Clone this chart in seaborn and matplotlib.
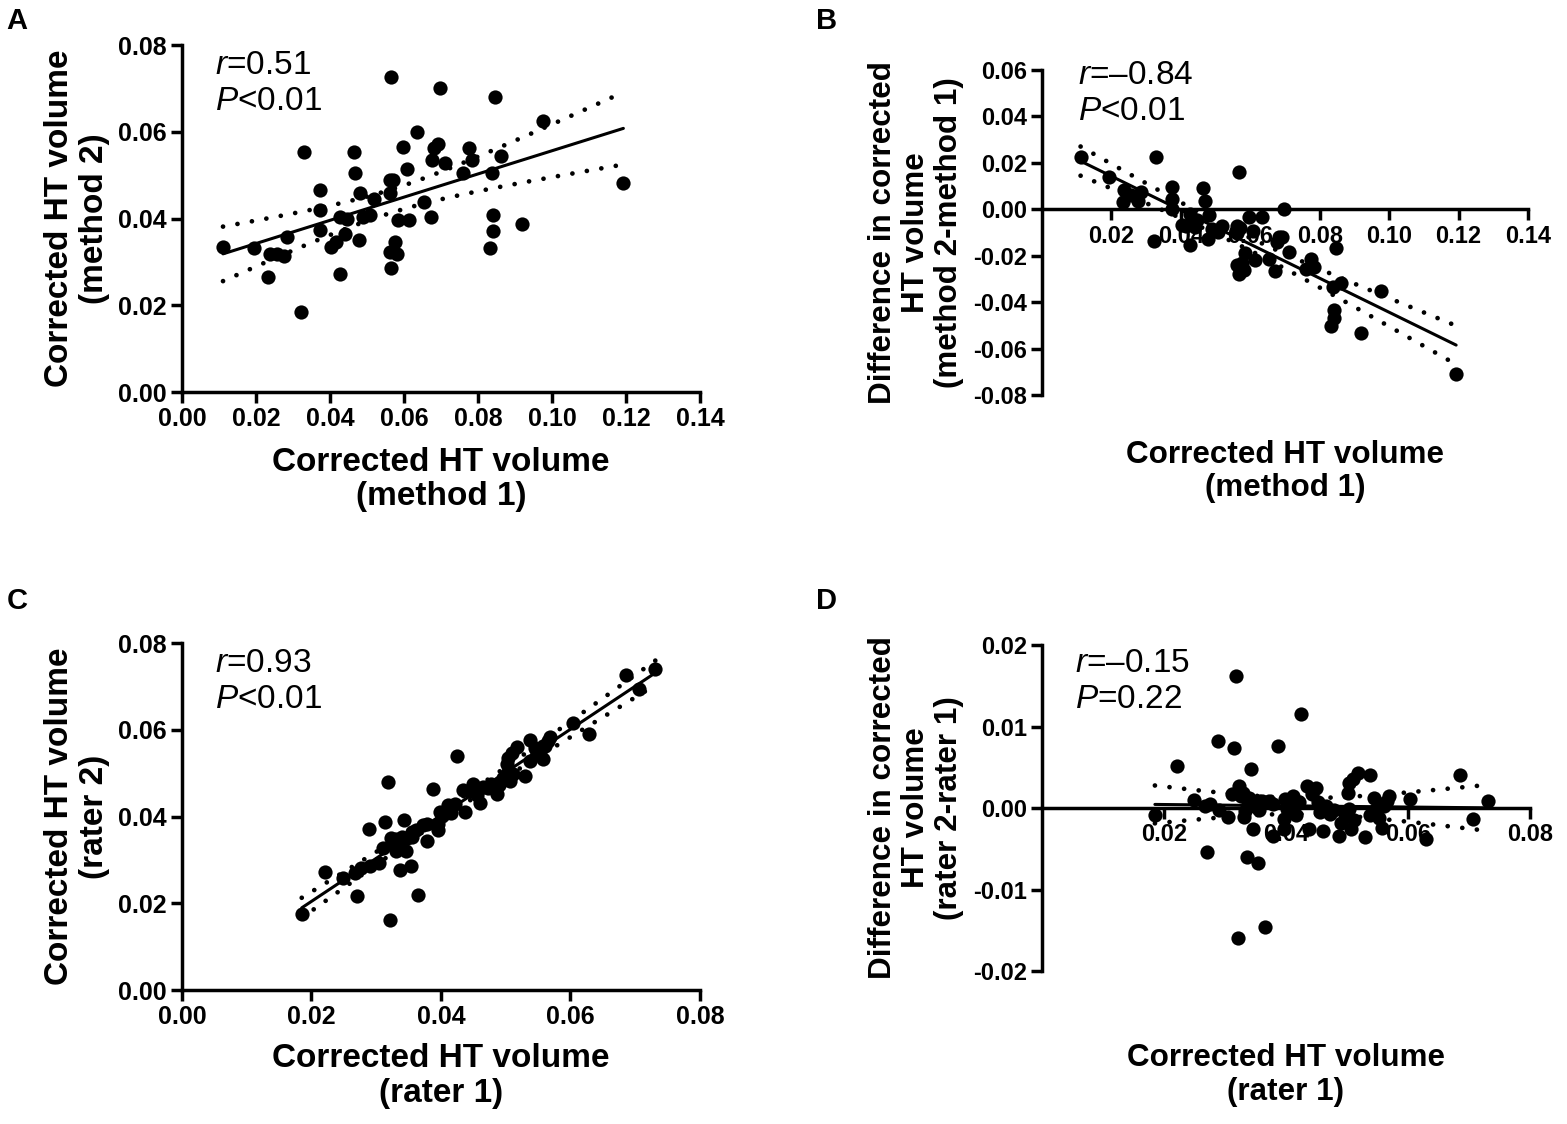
import numpy as np
import seaborn as sns
import matplotlib.pyplot as plt
from matplotlib.ticker import FormatStrFormatter

# corrected HT volume, method 1 vs method 2 (panel A, B is method2 - method1)
method1 = [0.0111, 0.0194, 0.0232, 0.0237, 0.0256, 0.0276, 0.0285, 0.0329, 0.0322,
           0.0373, 0.0373, 0.0373, 0.0402, 0.0416, 0.0426, 0.0426, 0.0445, 0.0440,
           0.0464, 0.0469, 0.0481, 0.0479, 0.0489, 0.0508, 0.0518, 0.0561, 0.0561,
           0.0571, 0.0566, 0.0561, 0.0581, 0.0576, 0.0566, 0.0585, 0.0614, 0.0597,
           0.0607, 0.0634, 0.0653, 0.0672, 0.0682, 0.0692, 0.0677, 0.0697, 0.0711,
           0.0760, 0.0776, 0.0784, 0.0837, 0.0842, 0.0842, 0.0832, 0.0847, 0.0861,
           0.0919, 0.0977, 0.1193]
method2 = [0.0335, 0.0331, 0.0265, 0.0319, 0.0319, 0.0313, 0.0358, 0.0554, 0.0185,
           0.0467, 0.0419, 0.0373, 0.0335, 0.0346, 0.0273, 0.0404, 0.0400, 0.0365,
           0.0554, 0.0505, 0.0458, 0.0350, 0.0404, 0.0408, 0.0444, 0.0458, 0.0488,
           0.0490, 0.0727, 0.0323, 0.0319, 0.0346, 0.0286, 0.0396, 0.0396, 0.0565,
           0.0515, 0.0600, 0.0438, 0.0404, 0.0562, 0.0573, 0.0535, 0.0700, 0.0527,
           0.0504, 0.0562, 0.0535, 0.0504, 0.0408, 0.0372, 0.0331, 0.0681, 0.0544,
           0.0388, 0.0625, 0.0482]

# corrected HT volume rater 1 and difference rater 2 - rater 1 (panel D, C is rater 2)
rater1 = [0.0185, 0.0221, 0.0249, 0.0267, 0.0276, 0.0270, 0.0289, 0.0290, 0.0305,
          0.0314, 0.0318, 0.0321, 0.0311, 0.0323, 0.0326, 0.0331, 0.0336, 0.0343,
          0.0346, 0.0354, 0.0365, 0.0361, 0.0355, 0.0378, 0.0387, 0.0378, 0.0396,
          0.0399, 0.0408, 0.0411, 0.0416, 0.0425, 0.0434, 0.0449, 0.0437, 0.0460,
          0.0455, 0.0472, 0.0487, 0.0490, 0.0507, 0.0504, 0.0504, 0.0510, 0.0518,
          0.0537, 0.0502, 0.0530, 0.0537, 0.0557, 0.0560, 0.0566, 0.0569, 0.0604,
          0.0629, 0.0686, 0.0706, 0.0731, 0.0402, 0.0422, 0.0478, 0.0548, 0.0557,
          0.0396, 0.0337, 0.0372, 0.0355, 0.0496, 0.0512, 0.0443, 0.0330, 0.0340,
          0.0348, 0.0333, 0.0452, 0.0465, 0.0545, 0.0553]
rater_diff = [-0.0009, 0.0052, 0.0010, 0.0003, 0.0005, -0.0054, 0.0082, -0.0003, -0.0011,
              0.0074, 0.0162, -0.0160, 0.0017, 0.0027, 0.0015, -0.0011, -0.0060, 0.0048,
              -0.0026, -0.0068, -0.0146, 0.0009, -0.0003, 0.0005, 0.0076, -0.0034, -0.0014,
              0.0011, -0.0001, 0.0015, -0.0009, 0.0115, 0.0027, 0.0025, -0.0026, -0.0028,
              -0.0005, -0.0007, -0.0034, -0.0018, -0.0026, -0.0001, 0.0031, 0.0036, 0.0043,
              0.0040, 0.0019, -0.0036, -0.0009, -0.0024, 0.0003, 0.0009, 0.0015, 0.0011,
              -0.0038, 0.0040, -0.0013, 0.0009, -0.0001, 0.0007, -0.0003, -0.0001, 0.0005,
              -0.0026, 0.0007, 0.0009, 0.0009, -0.0007, -0.0015, 0.0017, 0.0019, 0.0012,
              0.0003, -0.0004, 0.0008, 0.0002, 0.0012, -0.0012]

method1 = np.array(method1)
method2 = np.array(method2)
method_diff = method2 - method1
rater1 = np.array(rater1)
rater_diff = np.array(rater_diff)
rater2 = rater1 + rater_diff

sns.set_style("ticks")
plt.rcParams['font.family'] = ['Liberation Sans', 'DejaVu Sans']
plt.rcParams['font.weight'] = 'bold'
plt.rcParams['axes.unicode_minus'] = False
plt.rcParams['mathtext.fontset'] = 'custom'
plt.rcParams['mathtext.it'] = 'Liberation Sans:style=italic:weight=normal'
plt.rcParams['mathtext.rm'] = 'Liberation Sans:weight=normal'
for key in ('text.color', 'axes.labelcolor', 'xtick.color', 'ytick.color'):
    plt.rcParams[key] = 'black'


def fit_lines(x, y):
    # least squares line with 95% confidence band of the mean
    n = len(x)
    slope, icpt = np.polyfit(x, y, 1)
    xs = np.linspace(x.min(), x.max(), 200)
    fit = icpt + slope * xs
    resid = y - (icpt + slope * x)
    s = np.sqrt(np.sum(resid ** 2) / (n - 2))
    sxx = np.sum((x - x.mean()) ** 2)
    z = 1.96
    t = z + (z ** 3 + z) / (4 * (n - 2))
    half = t * s * np.sqrt(1 / n + (xs - x.mean()) ** 2 / sxx)
    return xs, fit, fit - half, fit + half


def panel(ax, x, y, xlim, ylim, xticks, yticks, xlabel, ylabel, note, note_xy,
          xlabel_y, small=False):
    sns.scatterplot(x=x, y=y, ax=ax, s=105, color='black', linewidth=0, zorder=3)
    xs, fit, lo, hi = fit_lines(x, y)
    ax.plot(xs, fit, color='black', lw=2.2, zorder=4)
    for band in (lo, hi):
        ax.plot(xs, band, color='black', lw=3.4, linestyle=(0, (0.01, 3.1)),
                dash_capstyle='round', zorder=4)
    ax.set_xlim(*xlim)
    ax.set_ylim(*ylim)
    ax.set_xticks(xticks)
    ax.set_yticks(yticks)
    ax.xaxis.set_major_formatter(FormatStrFormatter('%.2f'))
    ax.yaxis.set_major_formatter(FormatStrFormatter('%.2f'))
    lab = 22.6 if small else 24
    tick = 17 if small else 18
    ax.set_xlabel(xlabel, fontsize=lab, fontweight='bold', linespacing=1.15)
    ax.set_ylabel(ylabel, fontsize=lab, fontweight='bold', linespacing=1.15, labelpad=6)
    ax.xaxis.set_label_coords(0.5, xlabel_y)
    ax.tick_params(direction='out', length=8, width=2.5, labelsize=tick, pad=3,
                   colors='black')
    for side in ('top', 'right'):
        ax.spines[side].set_visible(False)
    for side in ('left', 'bottom'):
        ax.spines[side].set_linewidth(2.5)
        ax.spines[side].set_color('black')
    if small:
        ax.spines['bottom'].set_position(('data', 0))
    ax.text(note_xy[0], note_xy[1], note, transform=ax.transAxes, fontsize=24,
            fontweight='normal', va='top', ha='left', linespacing=1.2)


fig = plt.figure(figsize=(15.67, 11.24), dpi=100)
ax_a = fig.add_axes([0.1161, 0.6512, 0.3306, 0.3087])
ax_b = fig.add_axes([0.665, 0.6486, 0.3101, 0.2891])
ax_c = fig.add_axes([0.1161, 0.1192, 0.3306, 0.3087])
ax_d = fig.add_axes([0.665, 0.1361, 0.3114, 0.2900])

panel(ax_a, method1, method2, (0, 0.14), (0, 0.08),
      np.arange(0, 0.141, 0.02), np.arange(0, 0.081, 0.02),
      'Corrected HT volume\n(method 1)', 'Corrected HT volume\n(method 2)',
      '$\\mathit{r}$=0.51\n$\\mathit{P}$<0.01', (0.064, 0.985), -0.158)

panel(ax_b, method1, method_diff, (0, 0.14), (-0.08, 0.06),
      np.arange(0.02, 0.141, 0.02), np.arange(-0.08, 0.061, 0.02),
      'Corrected HT volume\n(method 1)',
      'Difference in corrected\nHT volume\n(method 2-method 1)',
      '$\\mathit{r}$=\u20130.84\n$\\mathit{P}$<0.01', (0.074, 1.03), -0.138, small=True)

panel(ax_c, rater1, rater2, (0, 0.08), (0, 0.08),
      np.arange(0, 0.081, 0.02), np.arange(0, 0.081, 0.02),
      'Corrected HT volume\n(rater 1)', 'Corrected HT volume\n(rater 2)',
      '$\\mathit{r}$=0.93\n$\\mathit{P}$<0.01', (0.064, 0.985), -0.153)

panel(ax_d, rater1, rater_diff, (0, 0.08), (-0.02, 0.02),
      np.arange(0.02, 0.081, 0.02), np.arange(-0.02, 0.021, 0.01),
      'Corrected HT volume\n(rater 1)',
      'Difference in corrected\nHT volume\n(rater 2-rater 1)',
      '$\\mathit{r}$=\u20130.15\n$\\mathit{P}$=0.22', (0.068, 0.99), -0.221, small=True)

for letter, fx, fy in (('A', 0.004, 0.994), ('B', 0.521, 0.994),
                       ('C', 0.004, 0.478), ('D', 0.521, 0.478)):
    fig.text(fx, fy, letter, fontsize=21, fontweight='bold', va='top', ha='left')

fig.savefig('out.png', dpi=100, facecolor='white')
